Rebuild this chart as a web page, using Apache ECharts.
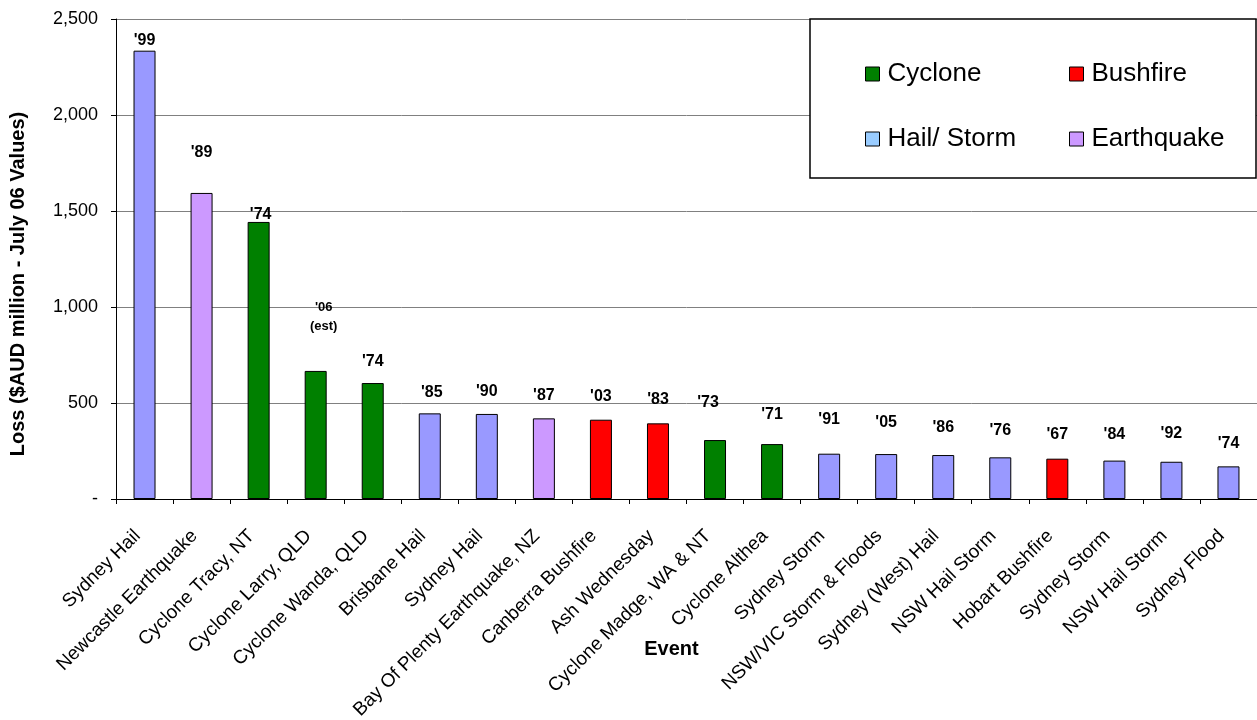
<!DOCTYPE html>
<html>
<head>
<meta charset="utf-8">
<script src="https://cdn.jsdelivr.net/npm/echarts@6/dist/echarts.min.js"></script>
<style>
    html, body { margin: 0; padding: 0; background: #fff; }
    #chart { width: 1257px; height: 720px; }
</style>
</head>
<body>
<div id="chart"></div>
<script>
// data
var events = ['Sydney Hail', 'Newcastle Earthquake', 'Cyclone Tracy, NT', 'Cyclone Larry, QLD', 'Cyclone Wanda, QLD',
    'Brisbane Hail', 'Sydney Hail', 'Bay Of Plenty Earthquake, NZ', 'Canberra Bushfire', 'Ash Wednesday',
    'Cyclone Madge, WA & NT', 'Cyclone Althea', 'Sydney Storm', 'NSW/VIC Storm & Floods', 'Sydney (West) Hail',
    'NSW Hail Storm', 'Hobart Bushfire', 'Sydney Storm', 'NSW Hail Storm', 'Sydney Flood'];
var losses = [2335, 1594, 1443, 667, 604, 446, 443, 420, 413, 394, 307, 286, 236, 234, 229, 217, 210, 200, 194, 170];
var years = ["'99", "'89", "'74", "'06\n(est)", "'74", "'85", "'90", "'87", "'03", "'83",
    "'73", "'71", "'91", "'05", "'86", "'76", "'67", "'84", "'92", "'74"];
var kinds = ['Hail/ Storm', 'Earthquake', 'Cyclone', 'Cyclone', 'Cyclone', 'Hail/ Storm', 'Hail/ Storm', 'Earthquake',
    'Bushfire', 'Bushfire', 'Cyclone', 'Cyclone', 'Hail/ Storm', 'Hail/ Storm', 'Hail/ Storm', 'Hail/ Storm',
    'Bushfire', 'Hail/ Storm', 'Hail/ Storm', 'Hail/ Storm'];
var kindNames = ['Cyclone', 'Bushfire', 'Hail/ Storm', 'Earthquake'];
var yTicks = [0, 500, 1000, 1500, 2000, 2500];

// where the year labels sit above each bar (px), as in the original
var labelLift = [10, 40, 7, 54, 21, 21, 22, 23, 23, 24, 37, 29, 34, 31, 27, 27, 24, 26, 28, 23];
var labelShift = [0, 0, 2, 8, 0, 2, 0, 0, 0, 0, -7, 0, 0, 0, 0, 0, 0, 0, 0, 0];

var barColors = {'Cyclone': '#008000', 'Bushfire': '#FF0000', 'Hail/ Storm': '#9999FF', 'Earthquake': '#CC99FF'};
var font = '"Liberation Sans", Arial, sans-serif';

var series = kindNames.map(function (k) {
    return {
        name: k,
        type: 'bar',
        stack: 'ev',
        barWidth: 22,
        itemStyle: {color: barColors[k], borderColor: '#000', borderWidth: 1},
        data: losses.map(function (v, i) {
            if (kinds[i] !== k) return '-';
            var small = years[i].indexOf('\n') >= 0;
            var h = small ? 38 : 16;
            return {
                value: v,
                label: {
                    show: true, position: 'top', distance: 5, formatter: years[i],
                    fontFamily: font, fontWeight: 'bold', color: '#000',
                    fontSize: small ? 13 : 16, lineHeight: small ? 19 : 16,
                    offset: [labelShift[i], -(labelLift[i] - h / 2 - 5)]
                }
            };
        })
    };
});

var legendBase = {
    orient: 'vertical',
    top: 61,
    padding: 0,
    itemWidth: 14,
    itemHeight: 14,
    itemGap: 39,
    icon: 'rect',
    selectedMode: false,
    itemStyle: {borderColor: '#000', borderWidth: 1},
    textStyle: {fontFamily: font, fontSize: 26, lineHeight: 26, color: '#000', padding: [0, 0, 0, 3]},
    z: 5
};

var chart = echarts.init(document.getElementById('chart'));
chart.setOption({
    animation: false,
    backgroundColor: '#fff',
    textStyle: {fontFamily: font},
    grid: {left: 116, right: 0, top: 19, bottom: 221, outerBoundsMode: 'none'},
    xAxis: {
        type: 'category',
        data: events,
        name: 'Event',
        nameLocation: 'middle',
        nameGap: 140,
        nameMoveOverlap: false,
        nameTextStyle: {fontFamily: font, fontSize: 20, fontWeight: 'bold', color: '#000', padding: [0, 30, 0, 0]},
        axisLine: {lineStyle: {color: '#000', width: 1}},
        axisTick: {show: true, interval: 0, length: 5, lineStyle: {color: '#000'}},
        axisLabel: {interval: 0, rotate: 45, margin: 27, padding: [0, 10, 0, 0],
            fontFamily: font, fontSize: 19, color: '#000'}
    },
    yAxis: {
        type: 'value',
        min: yTicks[0],
        max: yTicks[yTicks.length - 1],
        interval: 500,
        name: 'Loss ($AUD million - July 06 Values)',
        nameLocation: 'middle',
        nameRotate: 90,
        nameGap: 88,
        nameMoveOverlap: false,
        nameTextStyle: {fontFamily: font, fontSize: 20, fontWeight: 'bold', color: '#000', padding: [0, 50, 0, 0]},
        axisLine: {show: true, lineStyle: {color: '#000', width: 1}},
        axisTick: {show: true, length: 5, lineStyle: {color: '#000'}},
        axisLabel: {
            margin: 18, fontFamily: font, fontSize: 18, color: '#000',
            formatter: function (v) { return v === 0 ? '-' : v.toLocaleString('en-US'); }
        },
        splitLine: {lineStyle: {color: '#808080', width: 1}}
    },
    legend: [
        Object.assign({}, legendBase, {left: 865, data: ['Cyclone', {name: 'Hail/ Storm', itemStyle: {color: '#99CCFF'}}]}),
        Object.assign({}, legendBase, {left: 1069, data: ['Bushfire', 'Earthquake']})
    ],
    graphic: [{
        type: 'rect',
        z: 3,
        shape: {x: 810, y: 19, width: 446, height: 159},
        style: {fill: '#fff', stroke: '#000', lineWidth: 1.5}
    }],
    series: series
});
</script>
</body>
</html>
